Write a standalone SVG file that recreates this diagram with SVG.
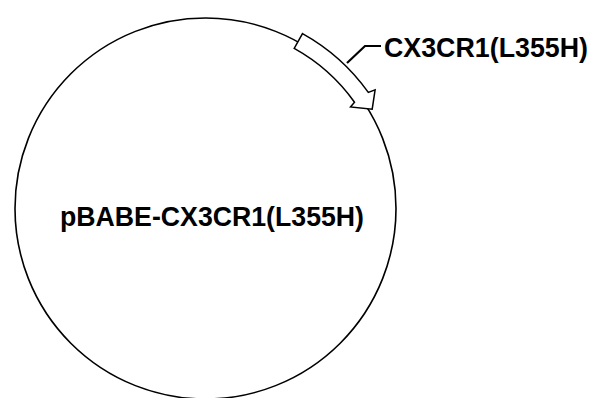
<svg xmlns="http://www.w3.org/2000/svg" width="592" height="398" viewBox="0 0 592 398">
<style>
.bb{fill:none;stroke:#000;stroke-width:1.6}
.feat{fill:#fff;stroke:#000;stroke-width:1.5;stroke-linejoin:miter}
.lead{fill:none;stroke:#000;stroke-width:2.2}
.lbl{font-family:"Liberation Sans",Arial,sans-serif;font-weight:bold;font-size:27px;fill:#000}
</style>
<rect width="592" height="398" fill="#fff"/>
<g id="backbone">
<circle class="bb" cx="205.5" cy="208.5" r="190.5"/>
</g>
<g id="feature-CX3CR1">
<path class="feat" d="M302.5,33.6 A200,200 0 0 1 368.3,92.4 L375.1,89.8 L372.2,109.2 L350.5,107.0 L354.5,102.2 A183,183 0 0 0 294.2,48.4 Z"/>
</g>
<g id="connectors">
<polyline class="lead" points="347,63 365,46 381,46"/>
</g>
<g id="label-feature">
<text class="lbl" x="384" y="56.5" textLength="204" lengthAdjust="spacingAndGlyphs">CX3CR1(L355H)</text>
</g>
<g id="label-plasmid">
<text class="lbl" x="60" y="226" textLength="304" lengthAdjust="spacingAndGlyphs">pBABE-CX3CR1(L355H)</text>
</g>
</svg>
